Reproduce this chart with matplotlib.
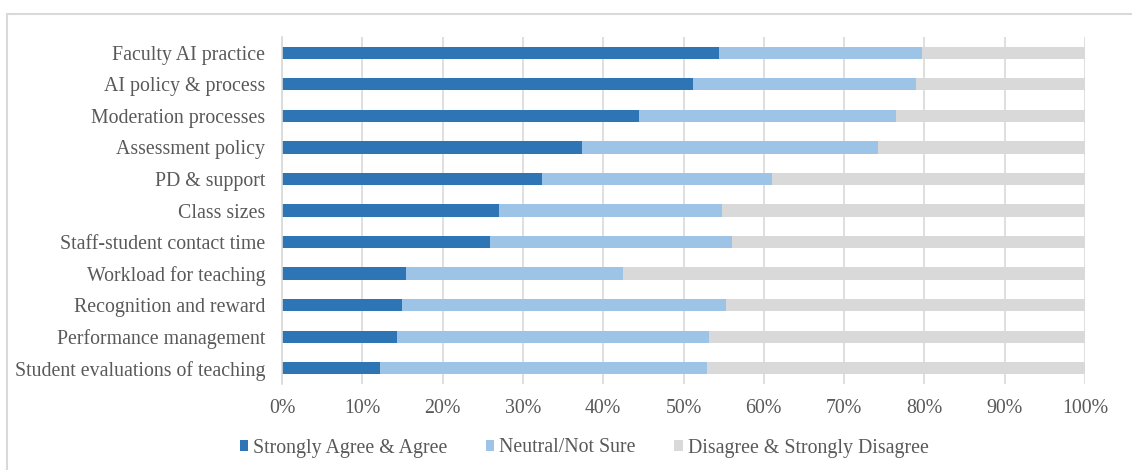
import matplotlib
matplotlib.use('Agg')
import matplotlib.pyplot as plt
from matplotlib.patches import Rectangle
import numpy as np

# Survey items, top to bottom
items = [
    'Faculty AI practice',
    'AI policy & process',
    'Moderation processes',
    'Assessment policy',
    'PD & support',
    'Class sizes',
    'Staff-student contact time',
    'Workload for teaching',
    'Recognition and reward',
    'Performance management',
    'Student evaluations of teaching',
]

# Share of responses (%)
agree = [54.4, 51.2, 44.5, 37.3, 32.4, 27.0, 25.9, 15.4, 14.9, 14.3, 12.2]
neutral = [25.3, 27.8, 32.0, 36.9, 28.6, 27.8, 30.2, 27.1, 40.4, 38.9, 40.7]
disagree = [20.3, 21.0, 23.5, 25.8, 39.0, 45.2, 43.9, 57.5, 44.7, 46.8, 47.1]

series_names = ['Strongly Agree & Agree', 'Neutral/Not Sure', 'Disagree & Strongly Disagree']
colors = ['#2E75B6', '#9DC3E6', '#D9D9D9']

plt.rcParams['font.family'] = ['Liberation Serif', 'DejaVu Serif']
plt.rcParams['font.size'] = 14.3
text_color = '#595959'

fig = plt.figure(figsize=(11.32, 4.70), dpi=100)
ax = fig.add_axes([282 / 1132, 1 - 384 / 470, 803 / 1132, 347 / 470])

# outer chart border (runs off the right and bottom edges)
fig.patches.append(Rectangle((7 / 1132, -0.1), 1.2, 1 - 14 / 470 + 0.1,
                             transform=fig.transFigure, fill=False,
                             edgecolor='#D9D9D9', linewidth=1.5))

y = np.arange(len(items))
left = np.zeros(len(items))
for vals, name, c in zip([agree, neutral, disagree], series_names, colors):
    ax.barh(y, vals, left=left, height=0.39, color=c, label=name, zorder=2)
    left += np.array(vals)

ax.set_ylim(len(items) - 0.5, -0.5)
ax.set_xlim(0, 100)
ax.set_yticks(y)
ax.set_yticklabels(items, color=text_color)
ax.set_xticks(np.arange(0, 101, 10))
ax.set_xticklabels([f'{v}%' for v in range(0, 101, 10)], color=text_color)
ax.tick_params(axis='x', length=0, pad=10.5)
ax.tick_params(axis='y', length=0, pad=12)

ax.grid(axis='x', color='#D9D9D9', linewidth=1.2, zorder=0)
for side in ['top', 'right', 'bottom']:
    ax.spines[side].set_visible(False)
ax.spines['left'].set_color('#D9D9D9')
ax.spines['left'].set_linewidth(1.2)

leg = fig.legend(loc='center', bbox_to_anchor=(584 / 1132, 1 - 448 / 470), ncol=3,
                 frameon=False, handlelength=0.45, handleheight=0.45,
                 handletextpad=0.25, columnspacing=1.9)
for t in leg.get_texts():
    t.set_color(text_color)

fig.savefig('out.png', dpi=100)
